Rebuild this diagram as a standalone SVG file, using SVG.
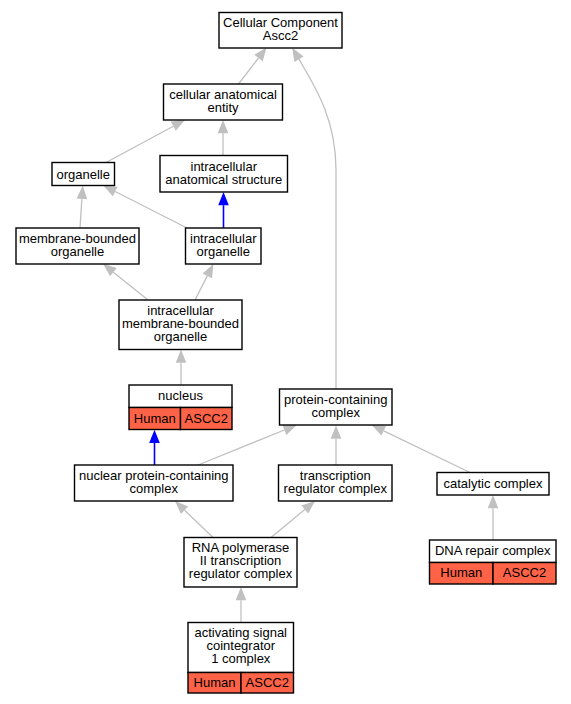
<svg xmlns="http://www.w3.org/2000/svg" width="571" height="704" viewBox="0 0 571 704">
<defs>
<style>
.box{fill:#ffffff;stroke:#000000;stroke-width:1.4}
.red{fill:#ff6347;stroke:#000000;stroke-width:1.4}
text{font-family:"Liberation Sans",Arial,sans-serif;font-size:13px;fill:#000000;text-anchor:middle}
.e{fill:none;stroke:#c0c0c0;stroke-width:1.3;marker-end:url(#ag)}
.b{fill:none;stroke:#0000ff;stroke-width:1.6;marker-end:url(#ab)}
</style>
<marker id="ag" markerUnits="userSpaceOnUse" markerWidth="14" markerHeight="12" refX="0" refY="0" orient="auto" overflow="visible"><path d="M0,-5.3 L13.3,0 L0,5.3 z" fill="#c0c0c0"/></marker>
<marker id="ab" markerUnits="userSpaceOnUse" markerWidth="14" markerHeight="12" refX="0" refY="0" orient="auto" overflow="visible"><path d="M0,-5.3 L13.3,0 L0,5.3 z" fill="#0000ff"/></marker>
</defs>
<rect width="571" height="704" fill="#ffffff"/>
<g id="connectors">
<line class="e" x1="238.5" y1="84" x2="258.5" y2="58"/>
<path class="e" d="M336,389 L336,170 C336,120 316,88 299,59.2"/>
<line class="e" x1="106" y1="162.5" x2="173.3" y2="126.2"/>
<line class="e" x1="223" y1="155" x2="223" y2="133.2"/>
<line class="e" x1="80" y1="228" x2="81.9" y2="198.8"/>
<line class="e" x1="187" y1="228" x2="115.2" y2="191.5"/>
<line class="b" x1="223.5" y1="228" x2="223.5" y2="205.2"/>
<line class="e" x1="148" y1="300" x2="113.4" y2="272.2"/>
<line class="e" x1="195" y1="300" x2="207.3" y2="275.9"/>
<line class="e" x1="181" y1="385" x2="181" y2="362.8"/>
<line class="b" x1="154.5" y1="465" x2="154.5" y2="443"/>
<line class="e" x1="198" y1="465" x2="284.4" y2="430"/>
<line class="e" x1="336" y1="465" x2="336" y2="438.8"/>
<line class="e" x1="470" y1="472.5" x2="383.7" y2="430.8"/>
<line class="e" x1="213" y1="537.5" x2="184.6" y2="510.2"/>
<line class="e" x1="271" y1="537.5" x2="304.8" y2="509.5"/>
<line class="e" x1="493" y1="540" x2="493" y2="508.3"/>
<line class="e" x1="241" y1="622.5" x2="241" y2="600.3"/>
</g>
<g id="n_cc"><rect class="box" x="219" y="12.5" width="123" height="35.5"/><text x="280.5" y="27">Cellular Component</text><text x="280.5" y="40">Ascc2</text></g>
<g id="n_cae"><rect class="box" x="163.5" y="84" width="119" height="36"/><text x="223" y="99">cellular anatomical</text><text x="223" y="112">entity</text></g>
<g id="n_organelle"><rect class="box" x="52" y="162.5" width="62.5" height="23"/><text x="83.25" y="178.5">organelle</text></g>
<g id="n_ias"><rect class="box" x="160" y="155.5" width="127.5" height="36.5"/><text x="223.75" y="170.5">intracellular</text><text x="223.75" y="183.5">anatomical structure</text></g>
<g id="n_mbo"><rect class="box" x="16" y="228" width="123" height="36"/><text x="77.5" y="243">membrane-bounded</text><text x="77.5" y="256">organelle</text></g>
<g id="n_io"><rect class="box" x="185.5" y="228" width="75.5" height="36"/><text x="223.25" y="243">intracellular</text><text x="223.25" y="256">organelle</text></g>
<g id="n_imbo"><rect class="box" x="119" y="300" width="123" height="49.5"/><text x="180.5" y="314.5">intracellular</text><text x="180.5" y="327.5">membrane-bounded</text><text x="180.5" y="340.5">organelle</text></g>
<g id="n_nucleus"><rect class="box" x="129" y="385" width="103" height="22.5"/><rect class="red" x="129" y="407.5" width="51.5" height="22"/><rect class="red" x="180.5" y="407.5" width="51.5" height="22"/><text x="180.5" y="400">nucleus</text><text x="154.75" y="422.5">Human</text><text x="206.25" y="422.5">ASCC2</text></g>
<g id="n_npcc"><rect class="box" x="74.5" y="465" width="158.5" height="36"/><text x="153.75" y="479.5">nuclear protein-containing</text><text x="153.75" y="492.5">complex</text></g>
<g id="n_pcc"><rect class="box" x="279.5" y="389" width="112.5" height="36"/><text x="335.75" y="403.5">protein-containing</text><text x="335.75" y="416.5">complex</text></g>
<g id="n_trc"><rect class="box" x="278.5" y="465" width="113.5" height="36"/><text x="335.25" y="479.5">transcription</text><text x="335.25" y="492.5">regulator complex</text></g>
<g id="n_cat"><rect class="box" x="437" y="472.5" width="112" height="22.5"/><text x="493" y="488">catalytic complex</text></g>
<g id="n_dna"><rect class="box" x="429.5" y="540" width="126.5" height="22.5"/><rect class="red" x="429.5" y="562.5" width="63.5" height="21.5"/><rect class="red" x="493" y="562.5" width="63" height="21.5"/><text x="492.75" y="555">DNA repair complex</text><text x="461.25" y="577">Human</text><text x="524.5" y="577">ASCC2</text></g>
<g id="n_rna"><rect class="box" x="184" y="537.5" width="113" height="49.5"/><text x="240.5" y="551.5">RNA polymerase</text><text x="240.5" y="564.5">II transcription</text><text x="240.5" y="577.5">regulator complex</text></g>
<g id="n_asc"><rect class="box" x="188" y="622.5" width="105.5" height="50"/><rect class="red" x="188" y="672.5" width="53" height="20.5"/><rect class="red" x="241" y="672.5" width="52.5" height="20.5"/><text x="240.75" y="637">activating signal</text><text x="240.75" y="650">cointegrator</text><text x="240.75" y="663">1 complex</text><text x="214.5" y="687">Human</text><text x="267.25" y="687">ASCC2</text></g>
</svg>
